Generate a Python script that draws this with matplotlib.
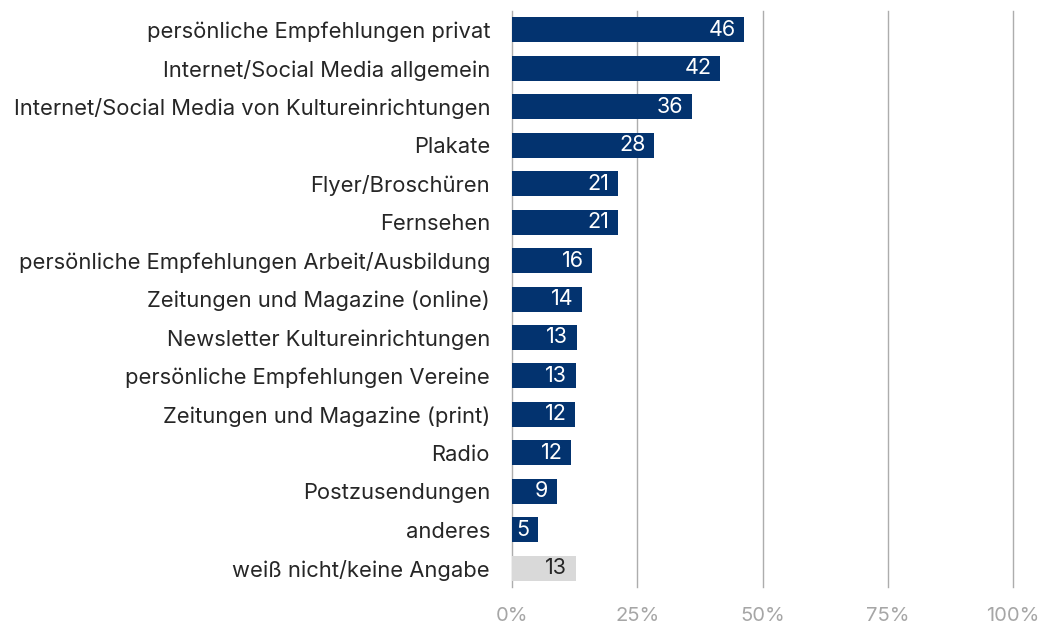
import matplotlib
matplotlib.use("Agg")
import matplotlib.pyplot as plt

categories = [
    "persönliche Empfehlungen privat",
    "Internet/Social Media allgemein",
    "Internet/Social Media von Kultureinrichtungen",
    "Plakate",
    "Flyer/Broschüren",
    "Fernsehen",
    "persönliche Empfehlungen Arbeit/Ausbildung",
    "Zeitungen und Magazine (online)",
    "Newsletter Kultureinrichtungen",
    "persönliche Empfehlungen Vereine",
    "Zeitungen und Magazine (print)",
    "Radio",
    "Postzusendungen",
    "anderes",
    "weiß nicht/keine Angabe",
]
values = [46.3, 41.5, 35.9, 28.3, 21.1, 21.1, 16.0, 13.9, 12.9, 12.7, 12.5, 11.7, 8.9, 5.1, 12.7]
labels = ["46", "42", "36", "28", "21", "21", "16", "14", "13", "13", "12", "12", "9", "5", "13"]
x_ticks = [0, 25, 50, 75, 100]
x_ticklabels = ["0%", "25%", "50%", "75%", "100%"]

plt.rcParams["font.family"] = ["Inter", "DejaVu Sans"]

navy = "#03336F"
gray = "#D9D9D9"
colors = [navy] * (len(values) - 1) + [gray]
text_colors = ["white"] * (len(values) - 1) + ["#262626"]

fig = plt.figure(figsize=(10.5, 6.23), dpi=100)
ax = fig.add_axes([0.4879, 0.057, 0.4769, 0.926])

y = list(range(len(categories)))
ax.barh(y, values, height=0.65, color=colors, zorder=3)

for yi, v, lab, tc in zip(y, values, labels, text_colors):
    ax.text(v - 1.7, yi, lab, ha="right", va="center", color=tc, fontsize=15.5, zorder=4)

ax.set_xlim(0, 100)
ax.set_ylim(len(categories) - 0.5, -0.5)
ax.set_yticks(y)
ax.set_yticklabels(categories, fontsize=15.8, color="#262626")
ax.set_xticks(x_ticks)
ax.set_xticklabels(x_ticklabels, fontsize=14.5, color="#A6A6A6")
ax.tick_params(axis="y", length=0, pad=16)
ax.tick_params(axis="x", length=0, pad=14)

ax.grid(axis="x", color="#ADADAD", linewidth=1.0, zorder=0)
for gl in ax.get_xgridlines():
    gl.set_clip_on(False)
for s in ax.spines.values():
    s.set_visible(False)

fig.savefig("out.png", dpi=100)
